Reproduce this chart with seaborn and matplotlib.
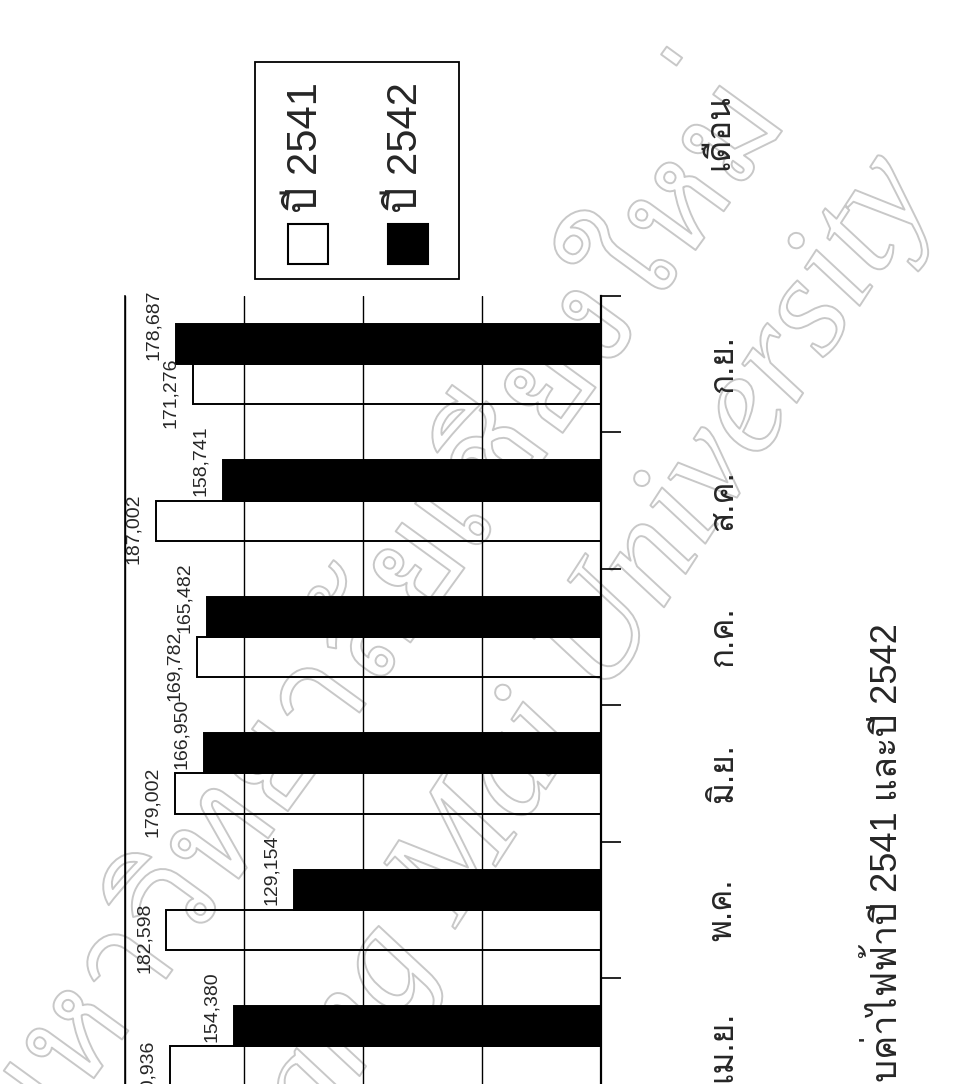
import matplotlib
matplotlib.use("Agg")
import numpy as np
import pandas as pd
import seaborn as sns
from matplotlib import pyplot as plt
from matplotlib import font_manager
from matplotlib import patheffects as pe
from matplotlib.patches import Rectangle
from fontTools.ttLib import TTFont

months = ["เม.ย.", "พ.ค.", "มิ.ย.", "ก.ค.", "ส.ค.", "ก.ย."]
years = ["ปี 2541", "ปี 2542"]
bill_2541 = [180936, 182598, 179002, 169782, 187002, 171276]
bill_2542 = [154380, 129154, 166950, 165482, 158741, 178687]
value_ticks = [0, 50000, 100000, 150000, 200000]
title = "เปรียบเทียบค่าไฟฟ้าปี 2541 และปี 2542"
axis_label = "เดือน"
watermark_th = "ลิขสิทธิ์มหาวิทยาลัยเชียงใหม่"
watermark_en = "Chiang Mai University"


def find_thai_family():
    # first installed face that has Thai glyphs
    for f in font_manager.fontManager.ttflist:
        try:
            cmap = TTFont(f.fname, fontNumber=0, lazy=True).getBestCmap()
        except Exception:
            continue
        if cmap and 0x0E1B in cmap and 0x0E48 in cmap:
            return f.name
    return None


def main():
    thai = find_thai_family()
    families = ["Liberation Sans"] + ([thai] if thai else []) + ["DejaVu Sans"]
    sns.set_style("white")
    plt.rcParams["font.family"] = families

    df = pd.DataFrame({
        "month": months * 2,
        "year": [years[0]] * len(months) + [years[1]] * len(months),
        "value": bill_2541 + bill_2542,
    })

    W, H = 959, 1084
    fig = plt.figure(figsize=(W / 100, H / 100), dpi=100)
    # value axis runs right-to-left, months bottom-to-top (page is turned)
    ax = fig.add_axes([125 / W, 1 - 1114.4 / H, 475.7 / W, 818.4 / H])
    ax.set_facecolor("none")

    sns.barplot(data=df, x="value", y="month", hue="year", order=months,
                hue_order=years, palette={years[0]: "white", years[1]: "black"},
                edgecolor="black", linewidth=1.4, width=0.59, orient="h",
                legend=False, ax=ax)
    # the 2541 bars are open boxes: grid and watermark show through
    for bar in ax.containers[0]:
        bar.set_facecolor("none")

    ax.set_xlim(200000, 0)
    ax.set_ylim(-0.5, len(months) - 0.5)
    ax.set_xlabel("")
    ax.set_ylabel("")

    ax.set_xticks(value_ticks)
    ax.tick_params(axis="x", length=0, labelbottom=False)
    ax.grid(axis="x", color="black", lw=1.0)
    ax.grid(axis="y", visible=False)
    ax.set_axisbelow(True)

    for side in ["top", "bottom"]:
        ax.spines[side].set_visible(False)
    ax.spines["right"].set_color("black")
    ax.spines["right"].set_linewidth(1.6)
    ax.spines["left"].set_color("black")
    ax.spines["left"].set_linewidth(1.2)

    ax.set_yticks(range(len(months)), labels=months)
    ax.set_yticks(np.arange(-0.5, len(months), 1), minor=True)
    ax.tick_params(axis="y", which="major", left=False, right=True, labelleft=False,
                   labelright=True, length=0, pad=77, labelrotation=90, labelsize=24)
    ax.tick_params(axis="y", which="minor", left=False, right=True, direction="out",
                   length=14.4, width=1.2, color="black")
    for lab in ax.get_yticklabels():
        lab.set_verticalalignment("center")

    nudges = [-6, 14]
    for cont, nudge in zip(ax.containers, nudges):
        for bar in cont:
            v = bar.get_width()
            yc = bar.get_y() + bar.get_height() / 2
            ax.annotate(f"{int(round(v)):,}", xy=(v, yc), xytext=(-10, nudge),
                        textcoords="offset points", rotation=90, ha="right",
                        va="center", fontsize=14, annotation_clip=False)

    # legend box drawn by hand so its text can be turned like the page
    fig.add_artist(Rectangle((255 / W, 1 - 279 / H), 204 / W, 217 / H,
                             transform=fig.transFigure, fill=False,
                             edgecolor="black", lw=1.3))
    for i, (yr, col) in enumerate(zip(years, ["white", "black"])):
        x0 = 288 + i * 100
        fig.add_artist(Rectangle((x0 / W, 1 - 264 / H), 40 / W, 40 / H,
                                 transform=fig.transFigure, facecolor=col,
                                 edgecolor="black", lw=1.5))
        fig.text((x0 + 18) / W, 1 - 213 / H, yr, rotation=90, ha="center",
                 va="bottom", fontsize=30)

    fig.text(720 / W, 1 - 132 / H, axis_label, rotation=90, ha="center",
             va="center", fontsize=24)
    fig.text(886 / W, 1 - 623 / H, title, rotation=90, ha="center", va="top",
             fontsize=26)

    # faint outlined library watermark behind everything
    outline = [pe.Stroke(linewidth=1.4, foreground="#c8c8c8")]
    fig.text(935 / W, 1 - 190 / H, watermark_en, rotation=57, rotation_mode="anchor",
             ha="right", va="baseline", fontsize=105, color="none",
             family=["Liberation Serif"], style="italic", path_effects=outline,
             zorder=-1)
    fig.text(790 / W, 1 - 120 / H, watermark_th, rotation=54, rotation_mode="anchor",
             ha="right", va="baseline", fontsize=100, color="none",
             path_effects=outline, zorder=-1)

    fig.savefig("out.png", dpi=100, facecolor="white")
    plt.close(fig)


if __name__ == "__main__":
    main()
